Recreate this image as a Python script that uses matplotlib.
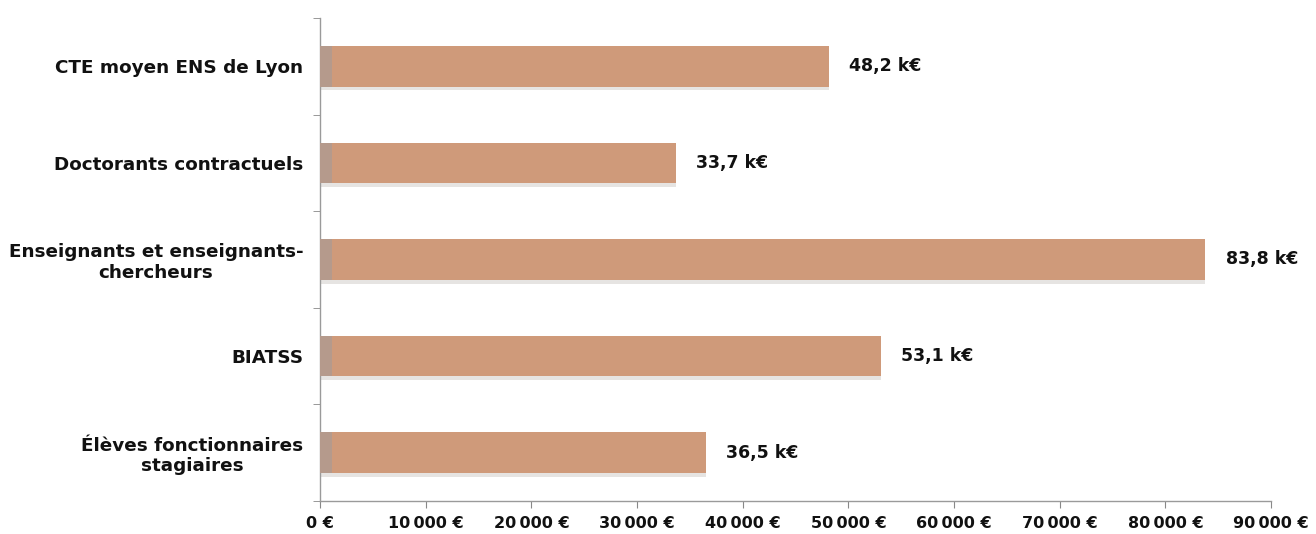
import matplotlib
matplotlib.use("Agg")
import matplotlib.pyplot as plt
from matplotlib.ticker import FuncFormatter, FixedLocator

categories = [
    "CTE moyen ENS de Lyon",
    "Doctorants contractuels",
    "Enseignants et enseignants-\nchercheurs",
    "BIATSS",
    "Élèves fonctionnaires\nstagiaires",
]
values = [48200, 33700, 83800, 53100, 36500]
value_labels = ["48,2 k€", "33,7 k€", "83,8 k€", "53,1 k€", "36,5 k€"]
x_ticks = [0, 10000, 20000, 30000, 40000, 50000, 60000, 70000, 80000, 90000]

plt.rcParams["font.family"] = ["DejaVu Sans"]

fig = plt.figure(figsize=(13.16, 5.34), dpi=100)
ax = fig.add_axes([0.2432, 0.0618, 0.7226, 0.9045])

n = len(categories)
ypos = list(range(n))
bar_h = 0.42

# soft shadow under each bar
ax.barh([y + 0.04 for y in ypos], values, height=bar_h, color="#b9b3ae",
        alpha=0.35, zorder=1, left=0)
bars = ax.barh(ypos, values, height=bar_h, color="#cf9a7a", zorder=2)
# darker strip at the base of each bar
ax.barh(ypos, [1100] * n, height=bar_h, color="#b59a8c", zorder=3)

for y, v, lab in zip(ypos, values, value_labels):
    ax.text(v + 1900, y, lab, va="center", ha="left", fontsize=12.5,
            fontweight="bold", color="#111111")

ax.set_ylim(n - 0.5, -0.5)
ax.set_xlim(0, 90000)
ax.set_yticks(ypos)
ax.set_yticklabels(categories, fontsize=13.2, fontweight="bold",
                   ha="right", multialignment="center", color="#111111")
ax.tick_params(axis="y", length=0, pad=12)
ax.yaxis.set_minor_locator(FixedLocator([i - 0.5 for i in range(n + 1)]))
ax.tick_params(axis="y", which="minor", length=5, color="#888888")

ax.set_xticks(x_ticks)
ax.xaxis.set_major_formatter(FuncFormatter(
    lambda v, p: "0 €" if v == 0 else f"{int(v):,} €".replace(",", "\u202f")))
for t in ax.get_xticklabels():
    t.set_fontweight("bold")
    t.set_fontsize(11.5)
    t.set_color("#111111")
ax.tick_params(axis="x", length=5, color="#888888", pad=6)

for s in ("top", "right"):
    ax.spines[s].set_visible(False)
for s in ("left", "bottom"):
    ax.spines[s].set_color("#9a9a9a")
    ax.spines[s].set_linewidth(1)

fig.savefig("out.png", dpi=100)
